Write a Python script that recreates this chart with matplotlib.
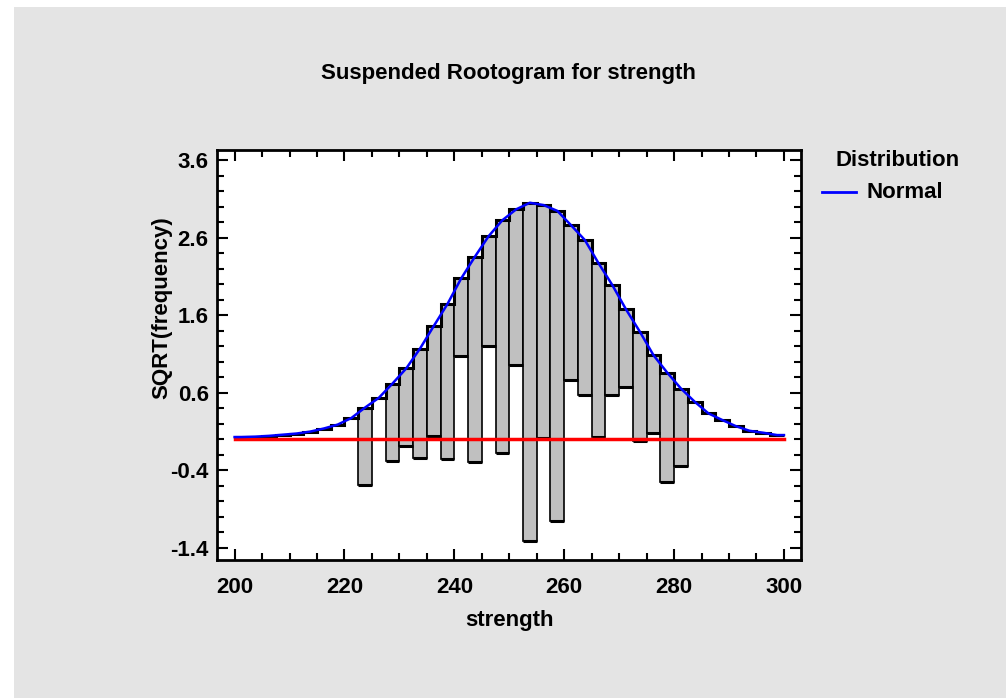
import numpy as np
import matplotlib
matplotlib.use("Agg")
import matplotlib.pyplot as plt
from matplotlib.lines import Line2D
from matplotlib.patches import Rectangle
from matplotlib.ticker import MultipleLocator

FONT = ["Liberation Sans", "DejaVu Sans"]
FS = 16

# 40 bins of width 2.5 from 200 to 300
BIN_START = 200.0
BIN_WIDTH = 2.5

# sqrt(expected frequency) per bin
expected_sqrt = [0.03, 0.035, 0.045, 0.06, 0.075, 0.10, 0.14, 0.19, 0.275, 0.41,
                 0.535, 0.72, 0.915, 1.17, 1.46, 1.745, 2.075, 2.355, 2.62, 2.825,
                 2.965, 3.05, 3.02, 2.945, 2.76, 2.57, 2.27, 1.99, 1.675, 1.39,
                 1.085, 0.86, 0.655, 0.485, 0.335, 0.25, 0.17, 0.11, 0.085, 0.055]

# observed counts per bin
observed = [0, 0, 0, 0, 0, 0, 0, 0, 0, 1,
            0, 1, 1, 2, 2, 4, 1, 7, 2, 9,
            4, 19, 9, 16, 4, 4, 5, 2, 1, 2,
            1, 2, 1, 0, 0, 0, 0, 0, 0, 0]

x_ticks = [200, 220, 240, 260, 280, 300]
y_ticks = [-1.4, -0.4, 0.6, 1.6, 2.6, 3.6]


def main():
    top = np.array(expected_sqrt)
    obs_root = np.sqrt(np.array(observed, dtype=float))
    bottom = top - obs_root
    edges = BIN_START + BIN_WIDTH * np.arange(len(top) + 1)
    left = edges[:-1]
    has = obs_root > 0

    fig = plt.figure(figsize=(10.06, 6.99), dpi=100, facecolor="white")
    fig.patches.append(Rectangle((14 / 1006, 1 / 699), 1, 691 / 699,
                                 transform=fig.transFigure,
                                 facecolor="#E4E4E4", edgecolor="none",
                                 zorder=-10))

    ax = fig.add_axes([217 / 1006, 139 / 699, 584 / 1006, 410 / 699])
    ax.set_facecolor("white")

    ax.bar(left[has], obs_root[has], bottom=bottom[has], width=BIN_WIDTH,
           align="edge", color="#C0C0C0", edgecolor="black", linewidth=1.2,
           zorder=2)
    ax.hlines(bottom[has], left[has], left[has] + BIN_WIDTH,
              color="black", linewidth=2.2, zorder=3)
    ax.stairs(top, edges, color="black", linewidth=2.2, baseline=None,
              zorder=3)
    ax.axhline(0, xmin=(200 - 196.8) / 106.3, xmax=(300 - 196.8) / 106.3,
               color="red", linewidth=2.5, zorder=4)

    cx = np.r_[edges[0], left + BIN_WIDTH / 2, edges[-1]]
    cy = np.r_[top[0], top, top[-1]]
    ax.plot(cx, cy, color="#0000FF", linewidth=1.8, zorder=5)

    ax.set_xlim(196.8, 303.1)
    ax.set_ylim(-1.555, 3.73)
    ax.set_xticks(x_ticks, [str(t) for t in x_ticks])
    ax.set_yticks(y_ticks, [f"{t:.1f}" for t in y_ticks])
    ax.xaxis.set_minor_locator(MultipleLocator(5))
    ax.yaxis.set_minor_locator(MultipleLocator(0.2))
    ax.tick_params(which="both", direction="in", top=True, right=True,
                   width=1.5, colors="black")
    ax.tick_params(which="major", length=8, labelsize=FS)
    ax.tick_params(which="minor", length=5)
    ax.tick_params(axis="x", which="major", pad=12)
    ax.tick_params(axis="y", which="major", pad=6)
    for lab in ax.get_xticklabels() + ax.get_yticklabels():
        lab.set_family(FONT)
        lab.set_fontweight("bold")
    for sp in ax.spines.values():
        sp.set_linewidth(2)

    ax.set_xlabel("strength", family=FONT, fontweight="bold", fontsize=FS)
    ax.xaxis.set_label_coords(0.5, -0.122)
    ax.set_ylabel("SQRT(frequency)", family=FONT, fontweight="bold",
                  fontsize=FS)
    ax.yaxis.set_label_coords(-0.077, 0.615)

    fig.text(508 / 1006, 1 - 74 / 699, "Suspended Rootogram for strength",
             ha="center", va="center", family=FONT, fontweight="bold",
             fontsize=FS)

    # legend outside the plot on the right
    fig.text(898 / 1006, 1 - 160 / 699, "Distribution", ha="center",
             va="center", family=FONT, fontweight="bold", fontsize=FS)
    fig.add_artist(Line2D([822 / 1006, 856 / 1006], [1 - 192 / 699, 1 - 192 / 699],
                          transform=fig.transFigure, color="#0000FF",
                          linewidth=2))
    fig.text(867 / 1006, 1 - 192 / 699, "Normal", ha="left", va="center",
             family=FONT, fontweight="bold", fontsize=FS)

    fig.savefig("out.png", dpi=100, facecolor=fig.get_facecolor())


if __name__ == "__main__":
    main()
